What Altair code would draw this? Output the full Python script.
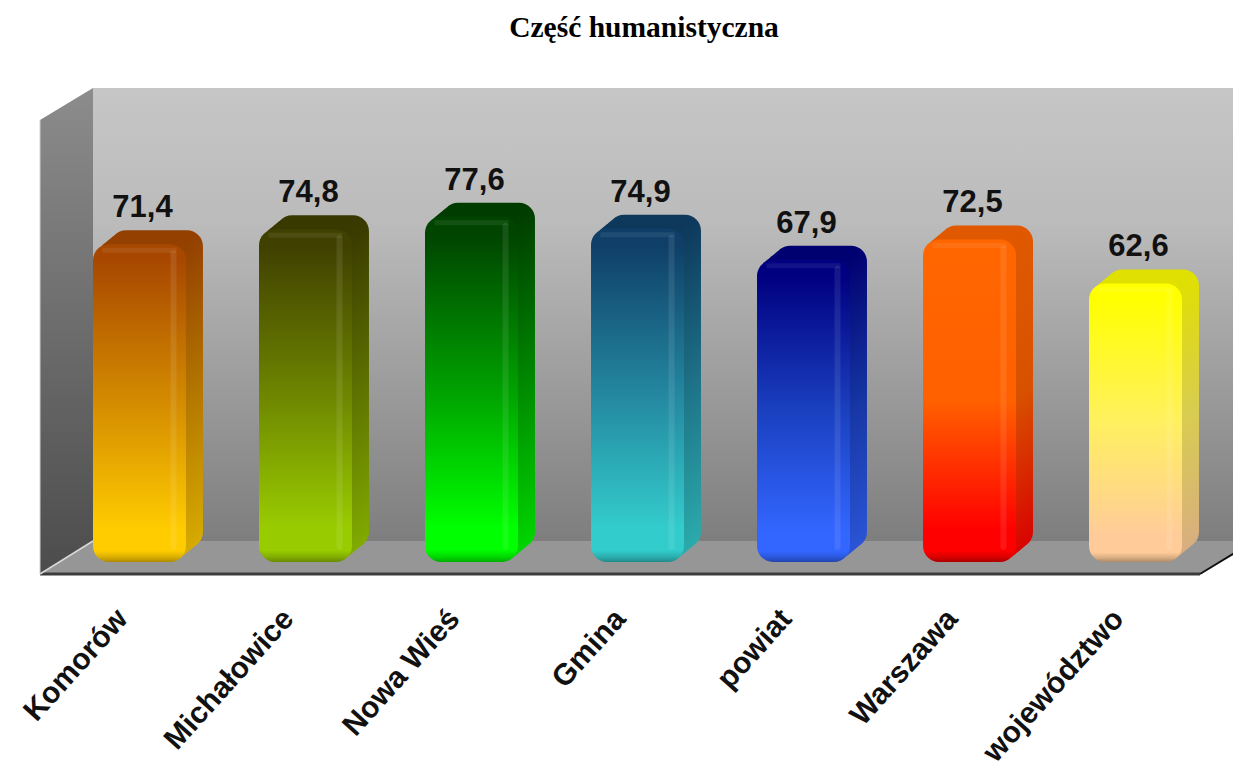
import altair as alt
import pandas as pd

categories = ["Komorów", "Michałowice", "Nowa Wieś", "Gmina", "powiat", "Warszawa", "województwo"]
values = [71.4, 74.8, 77.6, 74.9, 67.9, 72.5, 62.6]
value_labels = ["71,4", "74,8", "77,6", "74,9", "67,9", "72,5", "62,6"]
top_colors = ["#A84800", "#404000", "#004400", "#0F3F68", "#000080", "#FF6600", "#FFFF00"]
mid_colors = ["#D48C00", "#6E8600", "#00A000", "#2488A0", "#1A40C0", "#FF6000", "#FFF060"]
bottom_colors = ["#FFCC00", "#99CC00", "#00FF00", "#33CCCC", "#3366FF", "#FF0000", "#FFCC99"]

W, H = 1225, 762
FONT_BOLD = "Liberation Sans"
label_shift = [-17, -17, -17, -17, -17, -17, -17]


def shade(color, f):
    c = color.lstrip("#")
    r, g, b = [int(c[i:i + 2], 16) for i in (0, 2, 4)]
    return "#%02X%02X%02X" % (int(r * f), int(g * f), int(b * f))


def grad(stops):
    return alt.Gradient(
        gradient="linear", x1=0, x2=0, y1=0, y2=1,
        stops=[alt.GradientStop(offset=o, color=c) for o, c in stops],
    )


xpix = alt.Scale(domain=[0, W], range=[0, W])
ypix = alt.Scale(domain=[0, H], range=[0, H])
xband = alt.Scale(type="band", domain=categories, range=[85, 1174], paddingInner=0.44, paddingOuter=0)
yval = alt.Scale(domain=[0, 100], range=[554, 109])

layers = []

# walls (image pixel coordinates minus the page margin)
back = pd.DataFrame({"x": [85], "x2": [W], "y": [80], "y2": [533]})
layers.append(
    alt.Chart(back).mark_rect(
        fill=grad([(0, "#C6C6C6"), (0.3, "#BBBBBB"), (1, "#7E7E7E")])
    ).encode(
        x=alt.X("x:Q", scale=xpix, axis=None), x2="x2:Q",
        y=alt.Y("y:Q", scale=ypix, axis=None), y2="y2:Q",
    )
)
side = pd.DataFrame({"x": [32, 85], "top": [112, 80], "bot": [566, 533]})
layers.append(
    alt.Chart(side).mark_area(
        fill=grad([(0, "#8C8C8C"), (1, "#4C4C4C")]), orient="vertical"
    ).encode(
        x=alt.X("x:Q", scale=xpix, axis=None),
        y=alt.Y("top:Q", scale=ypix, axis=None), y2="bot:Q",
    )
)
floor = pd.DataFrame({"y": [533, 566], "x": [85, 32], "x2": [1250, 1192]})
layers.append(
    alt.Chart(floor).mark_area(fill="#969696", orient="horizontal", clip=True).encode(
        y=alt.Y("y:Q", scale=ypix, axis=None),
        x=alt.X("x:Q", scale=xpix, axis=None), x2="x2:Q",
    )
)
edges = [
    (pd.DataFrame({"x": [32, 1192], "y": [566, 566]}), "#3C3C3C", 3),
    (pd.DataFrame({"x": [1192, 1233], "y": [566, 541]}), "#111111", 2),
    (pd.DataFrame({"x": [32, 85], "y": [566, 533]}), "#D8D8D8", 1.5),
    (pd.DataFrame({"x": [32, 32], "y": [112, 566]}), "#D0D0D0", 1),
]
for df, col, sw in edges:
    layers.append(
        alt.Chart(df).mark_line(color=col, strokeWidth=sw, clip=True).encode(
            x=alt.X("x:Q", scale=xpix, axis=None),
            y=alt.Y("y:Q", scale=ypix, axis=None),
        )
    )

# bars
for i, cat in enumerate(categories):
    df = pd.DataFrame({"cat": [cat], "v": [values[i]], "z": [0], "lab": [value_labels[i]]})
    base = alt.Chart(df)
    enc = dict(
        x=alt.X("cat:N", scale=xband, axis=None),
        y=alt.Y("v:Q", scale=yval, axis=None),
        y2="z:Q",
    )
    t, m, b = top_colors[i], mid_colors[i], bottom_colors[i]
    side_fill = grad([(0, shade(t, 0.88)), (0.5, shade(m, 0.85)), (1, shade(b, 0.85))])
    for k in (1.0, 0.75, 0.5, 0.25):
        layers.append(
            base.mark_bar(
                fill=side_fill, cornerRadius=16,
                xOffset=17 * k, x2Offset=17 * k, yOffset=-14 * k, y2Offset=-14 * k,
            ).encode(**enc)
        )
    front_fill = grad([
        (0, t), (0.05, t), (0.5, m), (0.9, b), (0.965, b), (0.985, shade(b, 0.85)), (1, shade(b, 0.68)),
    ])
    layers.append(base.mark_bar(fill=front_fill, cornerRadius=16).encode(**enc))
    # soft highlights on the front face
    layers.append(
        base.mark_bar(
            fill="#FFFFFF", opacity=0.09, size=6, xOffset=34, x2Offset=34,
            yOffset=6, y2Offset=-12, cornerRadius=3,
        ).encode(**enc)
    )
    layers.append(
        base.mark_tick(color="#FFFFFF", opacity=0.07, size=74, thickness=5, yOffset=6).encode(
            x=enc["x"], y=enc["y"],
        )
    )
    layers.append(
        base.mark_text(
            font=FONT_BOLD, fontWeight="bold", fontSize=31, color="#111111",
            baseline="alphabetic", xOffset=3, yOffset=-27,
        ).encode(x=enc["x"], y=enc["y"], text="lab:N")
    )
    layers.append(
        base.mark_text(
            font=FONT_BOLD, fontWeight="bold", fontSize=30, color="#111111",
            angle=312, align="right", baseline="middle", xOffset=label_shift[i],
        ).encode(x=enc["x"], y=alt.value(606), text="cat:N")
    )

title_df = pd.DataFrame({"t": ["Część humanistyczna"]})
layers.append(
    alt.Chart(title_df).mark_text(
        font="Liberation Serif", fontWeight="bold", fontSize=29.5, color="#000000",
        baseline="alphabetic",
    ).encode(x=alt.value(636), y=alt.value(29), text="t:N")
)

chart = (
    alt.layer(*layers)
    .resolve_scale(x="independent", y="independent")
    .properties(width=W, height=H, padding=0, autosize=alt.AutoSizeParams(type="none"),
                background="#FFFFFF")
    .configure_view(stroke=None)
)
chart.save("out.html", embed_options={"renderer": "svg", "actions": False})
